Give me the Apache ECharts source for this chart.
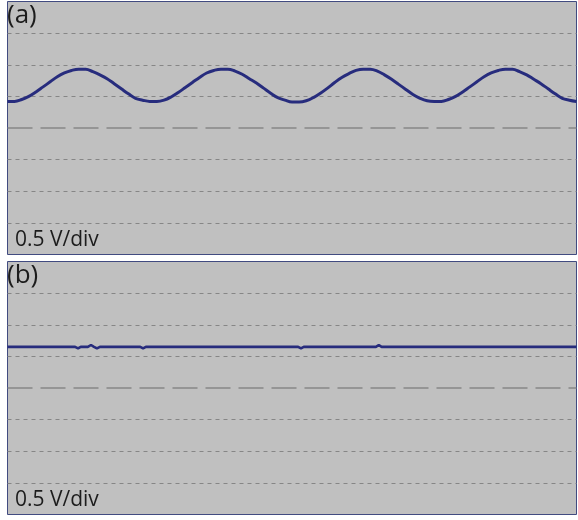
<!DOCTYPE html>
<html>
<head>
<meta charset="utf-8">
<script src="https://cdn.jsdelivr.net/npm/echarts@6/dist/echarts.min.js"></script>
<style>
  html, body { margin: 0; padding: 0; background: #ffffff; }
  #chart { width: 578px; height: 520px; }
</style>
</head>
<body>
<div id="chart"></div>
<script>
// Oscilloscope captures, 0.5 V per vertical division, 8 divisions tall.
// Sample spacing of trace (a), in time units (one ripple period = 10 units).
const sampleStepA = 0.5;

// Trace (a): ripple voltage (V), one sample every 0.5 time units, t = 0 … 40
const voltsA = [
  0.42, 0.42, 0.45, 0.50, 0.57, 0.65, 0.73, 0.81, 0.87, 0.91,
  0.93, 0.93, 0.89, 0.84, 0.78, 0.70, 0.62, 0.54, 0.47, 0.44,
  0.42, 0.42, 0.44, 0.49, 0.56, 0.64, 0.72, 0.80, 0.87, 0.91,
  0.93, 0.93, 0.90, 0.85, 0.78, 0.71, 0.63, 0.55, 0.48, 0.44,
  0.41, 0.41, 0.43, 0.48, 0.55, 0.63, 0.72, 0.80, 0.86, 0.91,
  0.93, 0.93, 0.90, 0.84, 0.77, 0.69, 0.61, 0.53, 0.47, 0.43,
  0.42, 0.42, 0.45, 0.50, 0.57, 0.65, 0.73, 0.81, 0.87, 0.91,
  0.93, 0.93, 0.89, 0.84, 0.77, 0.70, 0.62, 0.54, 0.47, 0.44,
  0.42
];

// Trace (b): flat output with a few small switching blips
const timeB  = [0, 4.75, 4.96, 5.15, 5.65, 5.87, 6.08, 6.29, 6.5, 9.33, 9.53, 9.73, 20.43, 20.63, 20.83, 25.9, 26.1, 26.3, 40];
const voltsB = [0.65, 0.65, 0.625, 0.65, 0.65, 0.68, 0.65, 0.625, 0.65, 0.65, 0.625, 0.65, 0.65, 0.625, 0.65, 0.65, 0.68, 0.65, 0.65];

// Vertical scale: -2 … +2 V, 0.5 V/div
const yMin = -2, yMax = 2, yStep = 0.5;
const tMin = 0, tMax = 40;

const panelLabels = ['(a)', '(b)'];
const scaleLabel = '0.5 V/div';

const traceColor = '#272c7d';
const gridColor = '#868686';
const panelBg = '#c0c0c0';
const borderColor = '#414b80';

const seriesA = voltsA.map((v, i) => [i * sampleStepA, v]);
const seriesB = timeB.map((t, i) => [t, voltsB[i]]);

// split lines: hide the ones on the border (±2 V) and the 0 V one (drawn long-dashed below)
const splitColors = [];
for (let v = yMin; v <= yMax + 1e-9; v += yStep) {
  splitColors.push(Math.abs(v) < 1e-9 || Math.abs(v - yMin) < 1e-9 || Math.abs(v - yMax) < 1e-9 ? 'rgba(0,0,0,0)' : gridColor);
}

const panels = [
  { top: 1.5, height: 253 },
  { top: 261.5, height: 253 }
];

function makeYAxis(idx) {
  return {
    type: 'value', gridIndex: idx, min: yMin, max: yMax, interval: yStep,
    axisLine: { show: false }, axisTick: { show: false }, axisLabel: { show: false },
    splitLine: { show: true, lineStyle: { color: splitColors, width: 1, type: [4, 4] } }
  };
}
function makeXAxis(idx) {
  return {
    type: 'value', gridIndex: idx, min: tMin, max: tMax,
    axisLine: { show: false }, axisTick: { show: false }, axisLabel: { show: false },
    splitLine: { show: false }
  };
}
const zeroLine = {
  silent: true, symbol: ['none', 'none'], label: { show: false },
  lineStyle: { color: gridColor, width: 1.5, type: [25, 8] },
  emphasis: { disabled: true },
  data: [{ yAxis: 0 }]
};

const chart = echarts.init(document.getElementById('chart'), null, { renderer: 'canvas' });

const graphics = [];
panels.forEach((p, i) => {
  graphics.push({
    type: 'text', left: 7, top: p.top + 1.5, z: 10,
    style: { text: panelLabels[i], font: '26px "Open Sans"', fill: '#1c1c1c' }
  });
  graphics.push({
    type: 'text', left: 15, top: p.top + 228, z: 10,
    style: { text: scaleLabel, font: '21px "Open Sans"', fill: '#1c1c1c' }
  });
});

chart.setOption({
  animation: false,
  backgroundColor: '#ffffff',
  grid: panels.map(p => ({
    left: 7.5, top: p.top, width: 569, height: p.height,
    show: true, backgroundColor: panelBg, borderColor: borderColor, borderWidth: 1
  })),
  xAxis: [makeXAxis(0), makeXAxis(1)],
  yAxis: [makeYAxis(0), makeYAxis(1)],
  series: [
    {
      type: 'line', xAxisIndex: 0, yAxisIndex: 0, data: seriesA,
      showSymbol: false, smooth: 0.4, z: 5,
      lineStyle: { color: traceColor, width: 3 },
      markLine: zeroLine
    },
    {
      type: 'line', xAxisIndex: 1, yAxisIndex: 1, data: seriesB,
      showSymbol: false, z: 5,
      lineStyle: { color: traceColor, width: 2.6 },
      markLine: zeroLine
    }
  ],
  graphic: graphics
});
</script>
</body>
</html>
